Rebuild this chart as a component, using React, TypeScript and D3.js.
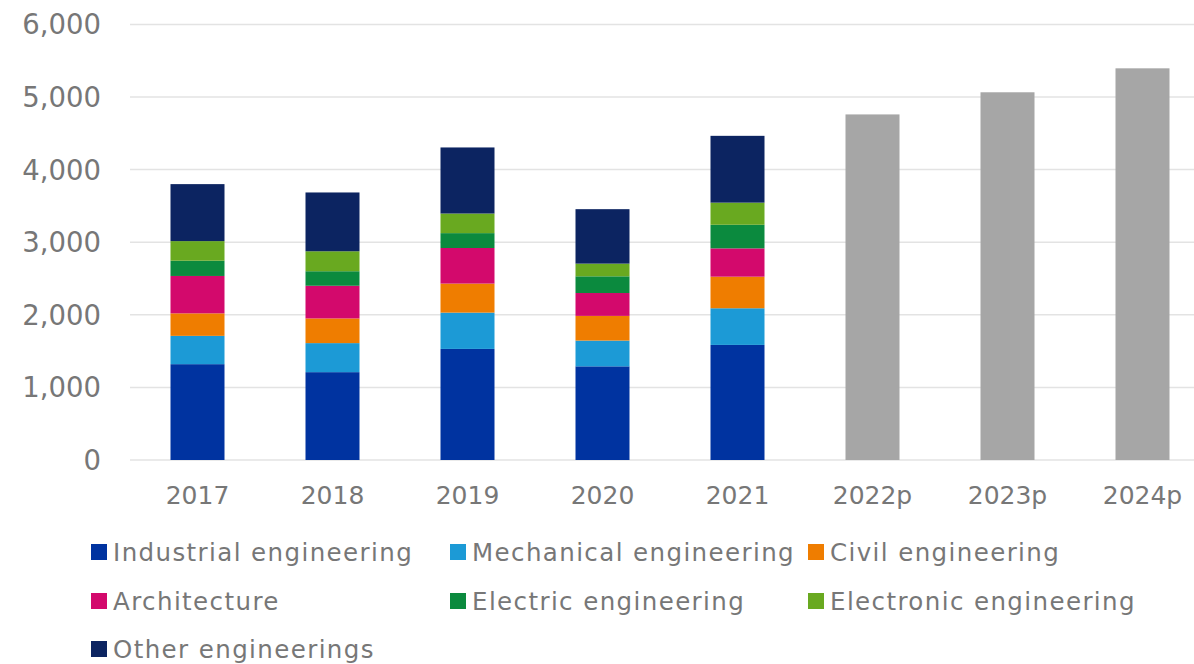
import React from "react";
import * as d3 from "d3";

const years = ["2017", "2018", "2019", "2020", "2021", "2022p", "2023p", "2024p"];
const seriesNames = [
  "Industrial engineering",
  "Mechanical engineering",
  "Civil engineering",
  "Architecture",
  "Electric engineering",
  "Electronic engineering",
  "Other engineerings",
];
const industrial = [1320, 1210, 1530, 1290, 1585];
const mechanical = [390, 400, 500, 355, 505];
const civil = [310, 340, 400, 340, 435];
const architecture = [515, 450, 490, 315, 390];
const electric = [210, 200, 205, 230, 325];
const electronic = [270, 275, 270, 175, 305];
const other = [785, 810, 910, 750, 920];
const projectedYears = ["2022p", "2023p", "2024p"];
const projectedTotals = [4760, 5065, 5395];
const yTicks = [0, 1000, 2000, 3000, 4000, 5000, 6000];

const colors = ["#0033a0", "#1c9ad6", "#ef7d00", "#d3096c", "#0b8a3e", "#69a920", "#0c2461"];
const grey = "#a6a6a6";
const textColor = "#777777";
const font = "'DejaVu Sans', sans-serif";

export default function App() {
  const W = 1194, H = 664;
  const x = d3.scaleBand<string>().domain(years).range([130, 1210]).paddingInner(0.6).paddingOuter(0.3);
  const y = d3.scaleLinear().domain([0, 6000]).range([460, 24.4]);
  const series = [industrial, mechanical, civil, architecture, electric, electronic, other];
  const actualYears = years.slice(0, 5);
  const table = actualYears.map((yr, i) => {
    const row: any = { year: yr };
    seriesNames.forEach((s, j) => (row[s] = series[j][i]));
    return row;
  });
  const stacked = d3.stack<any>().keys(seriesNames)(table);
  const fmt = d3.format(",");

  const legendCols = [91, 450, 808];
  const legendRows = [552, 601, 649];

  return (
    <svg width={W} height={H} style={{ position: "absolute", left: 0, top: 0, background: "#fff" }} fontFamily={font}>
      {yTicks.map((t) => (
        <g key={t}>
          <line x1={130} x2={W} y1={y(t)} y2={y(t)} stroke="#e3e3e3" strokeWidth={1.5} />
          <text x={101} y={y(t)} dy="0.36em" textAnchor="end" fontSize={27.5} fill={textColor}>
            {fmt(t)}
          </text>
        </g>
      ))}
      {stacked.map((layer, j) =>
        layer.map((d, i) => (
          <rect
            key={`${j}-${i}`}
            x={x(actualYears[i])}
            width={x.bandwidth()}
            y={y(d[1])}
            height={y(d[0]) - y(d[1])}
            fill={colors[j]}
          />
        ))
      )}
      {projectedYears.map((yr, i) => (
        <rect key={yr} x={x(yr)} width={x.bandwidth()} y={y(projectedTotals[i])} height={y(0) - y(projectedTotals[i])} fill={grey} />
      ))}
      {years.map((yr) => (
        <text key={yr} x={(x(yr) as number) + x.bandwidth() / 2} y={495} dy="0.36em" textAnchor="middle" fontSize={25} fill={textColor}>
          {yr}
        </text>
      ))}
      {seriesNames.map((s, j) => {
        const col = j % 3;
        const row = Math.floor(j / 3);
        const lx = legendCols[col];
        const ly = legendRows[row];
        return (
          <g key={s}>
            <rect x={lx} y={ly - 8} width={16} height={16} fill={colors[j]} />
            <text x={lx + 22} y={ly} dy="0.36em" fontSize={24.5} letterSpacing={1.4} fill={textColor}>
              {s}
            </text>
          </g>
        );
      })}
    </svg>
  );
}
